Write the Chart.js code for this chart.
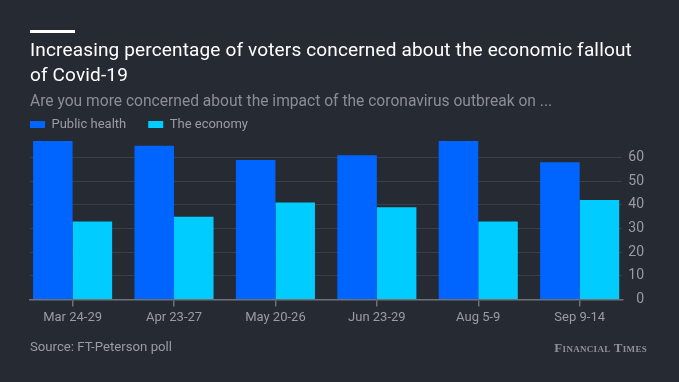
<!DOCTYPE html>
<html>
<head>
<meta charset="utf-8">
<script src="https://cdn.jsdelivr.net/npm/chart.js@4"></script>
<style>
  html, body { margin: 0; padding: 0; background: #262a33; }
  #wrap { position: relative; width: 679px; height: 382px; background: #262a33; overflow: hidden; font-family: Roboto, "Open Sans", sans-serif; }
  #bar { position: absolute; left: 30px; top: 30px; width: 45px; height: 3px; background: #ffffff; }
  #title { position: absolute; left: 30px; top: 38px; width: 645px; font-size: 19px; letter-spacing: 0.15px; line-height: 24.5px; color: #ffffff; }
  #sub { position: absolute; left: 30px; top: 92px; font-size: 15.6px; line-height: 18px; color: #8b8e95; white-space: nowrap; }
  #src { position: absolute; left: 30px; top: 339px; font-size: 13.2px; line-height: 16px; color: #9a9ca2; white-space: nowrap; }
  #ft { position: absolute; right: 32px; top: 340px; font-family: "Liberation Serif", "DejaVu Serif", serif; font-weight: bold; font-size: 13px; letter-spacing: 0.3px; line-height: 16px; color: #8f9197; font-variant: small-caps; white-space: nowrap; }
  canvas { position: absolute; left: 0; top: 0; }
</style>
</head>
<body>
<div id="wrap">
  <canvas id="c" width="679" height="382"></canvas>
  <div id="bar"></div>
  <div id="title">Increasing percentage of voters concerned about the economic fallout<br>of Covid-19</div>
  <div id="sub">Are you more concerned about the impact of the coronavirus outbreak on ...</div>
  <div id="src">Source: FT-Peterson poll</div>
  <div id="ft">Financial Times</div>
</div>
<script>
const categories = ["Mar 24-29", "Apr 23-27", "May 20-26", "Jun 23-29", "Aug 5-9", "Sep 9-14"];
const publicHealth = [67, 65, 59, 61, 67, 58];
const economy = [33, 35, 41, 39, 33, 42];
const yTicks = [0, 10, 20, 30, 40, 50, 60];
const seriesNames = ["Public health", "The economy"];

const toPoints = arr => arr.map((v, i) => ({ x: i, y: v }));

new Chart(document.getElementById('c'), {
  type: 'bar',
  data: {
    datasets: [
      { label: seriesNames[0], data: toPoints(publicHealth), backgroundColor: '#0064ff', borderWidth: 0 },
      { label: seriesNames[1], data: toPoints(economy), backgroundColor: '#00ccff', borderWidth: 0 }
    ]
  },
  options: {
    responsive: false,
    animation: false,
    devicePixelRatio: 1,
    categoryPercentage: 0.78,
    barPercentage: 1.0,
    layout: { padding: { top: 96, left: 8, right: 35, bottom: 52 } },
    plugins: {
      tooltip: { enabled: false },
      legend: {
        display: true,
        position: 'top',
        align: 'start',
        labels: {
          boxWidth: 15,
          boxHeight: 7,
          padding: 22,
          color: '#9a9ca2',
          font: { family: 'Roboto', size: 13 }
        }
      }
    },
    scales: {
      x: {
        type: 'linear',
        min: -0.42,
        max: 5.42,
        offset: false,
        afterBuildTicks: axis => { axis.ticks = categories.map((c, i) => ({ value: i })); },
        grid: { offset: false, drawOnChartArea: false, drawTicks: true, tickLength: 7, color: '#6e7177', lineWidth: 1.5 },
        border: { display: true, color: '#6e7177', width: 1.5 },
        ticks: {
          color: '#9a9ca2',
          font: { family: 'Roboto', size: 13 },
          padding: 4,
          maxRotation: 0,
          autoSkip: false,
          callback: v => categories[Math.round(v)]
        }
      },
      y: {
        position: 'right',
        min: 0,
        max: 67,
        afterBuildTicks: axis => { axis.ticks = yTicks.map(v => ({ value: v })); },
        grid: {
          drawTicks: false,
          color: ctx => (ctx.tick && ctx.tick.value === 0) ? 'rgba(0,0,0,0)' : '#3b3f47',
          lineWidth: 1
        },
        border: { display: false },
        ticks: {
          color: '#9a9ca2',
          font: { family: 'Roboto', size: 14 },
          padding: 3,
          crossAlign: 'far'
        }
      },
      yLeft: {
        position: 'left',
        display: true,
        grid: { display: false, drawTicks: false },
        border: { display: false },
        ticks: { display: false },
        afterFit: s => { s.width = 22; }
      }
    }
  }
});
</script>
</body>
</html>
